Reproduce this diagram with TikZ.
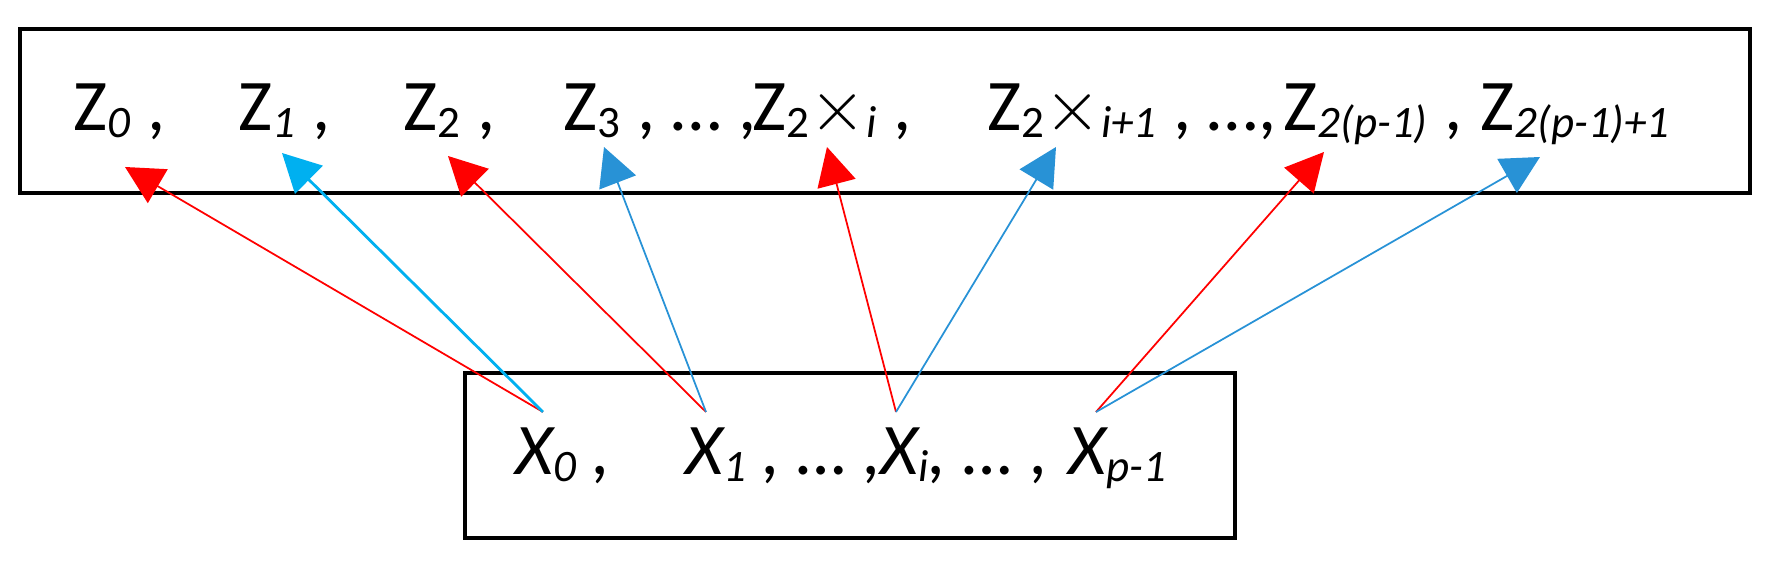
\documentclass[tikz,border=0pt]{standalone}
\usepackage{fontspec}
\setmainfont{Carlito}
\usetikzlibrary{arrows.meta}
\definecolor{zred}{RGB}{255,0,0}
\definecolor{zcyan}{RGB}{0,176,240}
\definecolor{zblue}{RGB}{40,146,214}
\newcommand{\sub}[1]{\raisebox{-0.7mm}{\fontsize{12.8}{14}\selectfont #1}}
\newcommand{\tms}{\(\times\)}

\begin{document}
\begin{tikzpicture}[x=0.1mm, y=-0.1mm,
  box/.style={line width=1.4pt},
  term/.style={anchor=base west, inner sep=0pt, font=\fontsize{20.7}{24}\selectfont},
  link/.style={-{Triangle[length=3.8mm,width=3.9mm]}, line width=0.5pt}]
  \useasboundingbox (0,0) rectangle (1775,569);

  \draw[box] (20,29) rectangle (1750,193);
  \draw[box] (465,373) rectangle (1235,538);

  % upper row
  \node[term] (z0) at (73,131) {Z\sub{\itshape 0} ,};
  \node[term] (z1) at (238,131) {Z\sub{\itshape 1} ,};
  \node[term] (z2) at (403,131) {Z\sub{2} ,};
  \node[term] (z3) at (563,131) {Z\sub{3} , … ,};
  \node[term] (z4) at (752,131) {Z\sub{2}\tms\sub{\itshape i} ,};
  \node[term] (z5) at (987,131) {Z\sub{2}\tms\sub{\itshape i+1} , …,};
  \node[term] (z6) at (1283,131) {Z\sub{\itshape 2(p-1)} ,};
  \node[term] (z7) at (1480,131) {Z\sub{\itshape 2(p-1)+1}};

  % lower row
  \node[term] (x0) at (515,475) {\itshape X\sub{0} ,};
  \node[term] (x1) at (685,475) {\itshape X\sub{1} , … ,};
  \node[term] (xi) at (880,475) {\itshape X\sub{i}, … ,};
  \node[term] (xp) at (1068,475) {\itshape X\sub{p-1}};

  \coordinate (x0s) at (543,412);
  \coordinate (x1s) at (706,412);
  \coordinate (xis) at (896,412);
  \coordinate (xps) at (1096,412);

  \coordinate (z0t) at (125,167);
  \coordinate (z1t) at (282,153);
  \coordinate (z2t) at (448,156);
  \coordinate (z3t) at (604,147);
  \coordinate (z4t) at (827,147);
  \coordinate (z5t) at (1056,147);
  \coordinate (z6t) at (1324,152);
  \coordinate (z7t) at (1540,157);

  \draw[link, zred] (x0s) -- (z0t);
  \draw[link, zcyan, line width=0.8pt] (x0s) -- (z1t);
  \draw[link, zred] (x1s) -- (z2t);
  \draw[link, zblue] (x1s) -- (z3t);
  \draw[link, zred] (xis) -- (z4t);
  \draw[link, zblue] (xis) -- (z5t);
  \draw[link, zred] (xps) -- (z6t);
  \draw[link, zblue] (xps) -- (z7t);
\end{tikzpicture}
\end{document}
